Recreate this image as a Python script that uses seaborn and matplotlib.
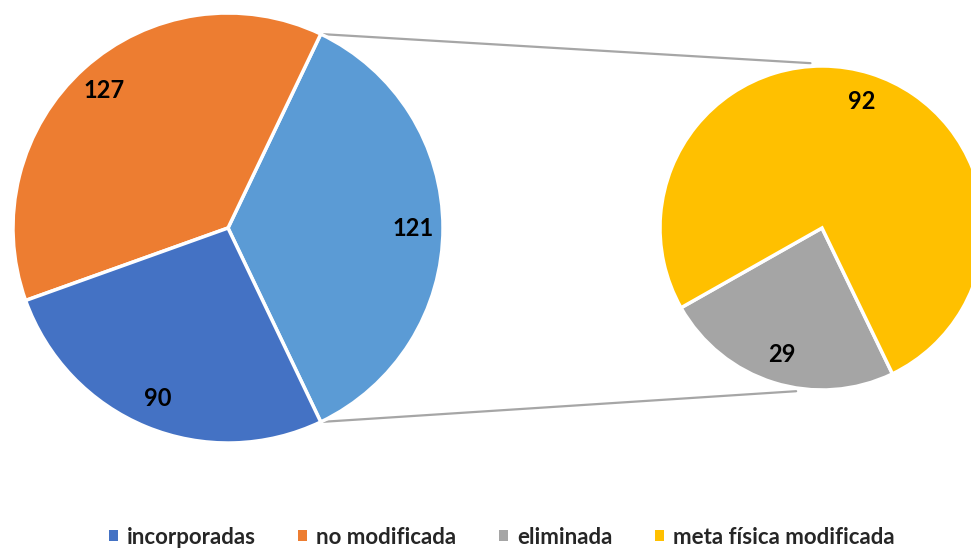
import matplotlib
matplotlib.use("Agg")
import matplotlib.pyplot as plt
import seaborn as sns
import numpy as np
from matplotlib.patches import Patch

# data (pie of pie)
main_labels = ["otras", "no modificada", "incorporadas"]
main_values = [121, 127, 90]
sub_labels = ["eliminada", "meta física modificada"]
sub_values = [29, 92]
legend_labels = ["incorporadas", "no modificada", "eliminada", "meta física modificada"]

colors = {
    "incorporadas": "#4472C4",
    "no modificada": "#ED7D31",
    "otras": "#5B9BD5",
    "eliminada": "#A5A5A5",
    "meta física modificada": "#FFC000",
}

sns.set_style("white")
plt.rcParams["font.family"] = ["Lato", "DejaVu Sans"]

W, H = 971, 548
fig = plt.figure(figsize=(W / 100, H / 100), dpi=100)
ax = fig.add_axes([0, 0, 1, 1])

main_c, main_r = (228, 320), 215
sub_c, sub_r = (822, 320), 162

def value_fmt(vals):
    total = sum(vals)
    return lambda p: f"{int(round(p * total / 100))}"

start = -main_values[0] / sum(main_values) * 180
ax.pie(main_values, colors=[colors[k] for k in main_labels], startangle=start,
       center=main_c, radius=main_r, autopct=value_fmt(main_values), pctdistance=0.86,
       wedgeprops=dict(edgecolor="white", linewidth=2.5),
       textprops=dict(fontsize=17, fontweight="bold", color="black"))

ax.pie(sub_values, colors=[colors[k] for k in sub_labels], startangle=209.5,
       center=sub_c, radius=sub_r, autopct=value_fmt(sub_values), pctdistance=0.82,
       wedgeprops=dict(edgecolor="white", linewidth=2.5),
       textprops=dict(fontsize=17, fontweight="bold", color="black"))

# connector lines between the two pies
for a_main, a_sub in [(-start, 94), (start, 261)]:
    x0 = main_c[0] + main_r * np.cos(np.radians(a_main))
    y0 = main_c[1] + main_r * np.sin(np.radians(a_main))
    x1 = sub_c[0] + sub_r * 1.02 * np.cos(np.radians(a_sub))
    y1 = sub_c[1] + sub_r * 1.02 * np.sin(np.radians(a_sub))
    ax.plot([x0, x1], [y0, y1], color="#A6A6A6", linewidth=1.6, zorder=0)

ax.set_xlim(0, W)
ax.set_ylim(0, H)
ax.set_aspect("equal")
ax.axis("off")

handles = [Patch(facecolor=colors[k], edgecolor="none") for k in legend_labels]
fig.legend(handles, legend_labels, loc="center", bbox_to_anchor=(0.5165, 1 - 537 / H),
           ncol=4, frameon=False, handlelength=0.42, handleheight=0.42,
           handletextpad=0.4, columnspacing=1.9,
           prop=dict(size=16, weight="bold"))

fig.savefig("out.png", dpi=100)
